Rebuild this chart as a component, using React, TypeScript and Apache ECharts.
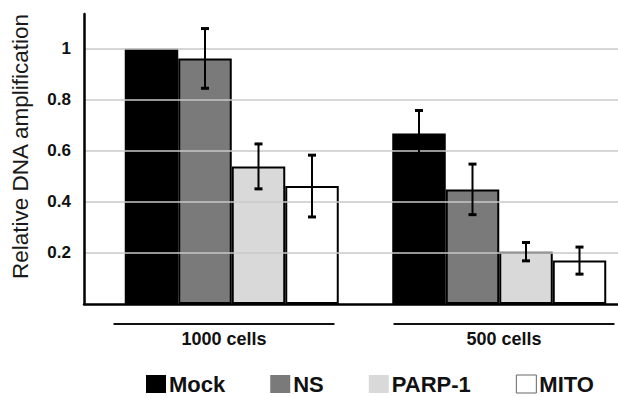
import React, { useEffect, useRef } from "react";
import * as echarts from "echarts";

const categories = ["1000 cells", "500 cells"];
const seriesNames = ["Mock", "NS", "PARP-1", "MITO"];
const mockValues = [1.0, 0.668];
const nsValues = [0.962, 0.449];
const parpValues = [0.539, 0.205];
const mitoValues = [0.462, 0.17];
const mockErr: (number | null)[] = [null, 0.09];
const nsErr = [0.117, 0.099];
const parpErr = [0.088, 0.036];
const mitoErr = [0.121, 0.053];
const yTickLabels = [0.2, 0.4, 0.6, 0.8, 1];
const yMax = 1.136;

const colors = ["#000000", "#7a7a7a", "#d9d9d9", "#ffffff"];
const FONT = "'Liberation Sans', Arial, sans-serif";

export default function App() {
  const ref = useRef<HTMLDivElement>(null);
  useEffect(() => {
    document.body.style.margin = "0";
    const chart = echarts.init(ref.current!, null, { renderer: "svg" });
    const values = [mockValues, nsValues, parpValues, mitoValues];
    const errs = [mockErr, nsErr, parpErr, mitoErr];
    const errData: number[][] = [];
    errs.forEach((arr, s) => {
      arr.forEach((e, c) => {
        if (e != null) errData.push([c, s, values[s][c] - e, values[s][c] + e]);
      });
    });

    const barSeries = seriesNames.map((name, i) => ({
      name,
      type: "bar",
      xAxisIndex: 1,
      yAxisIndex: 1,
      data: values[i],
      barWidth: "20%",
      barGap: "0%",
      itemStyle: { color: colors[i], borderColor: "#000", borderWidth: 2 },
      z: 3,
    }));

    chart.setOption({
      animation: false,
      textStyle: { fontFamily: FONT },
      grid: [
        { left: 84, width: 534, top: 14, height: 290, outerBoundsMode: "none", containLabel: false },
        { left: 98, width: 535, top: 14, height: 290, outerBoundsMode: "none", containLabel: false },
        { left: 84, width: 560, top: 14, height: 290, outerBoundsMode: "none", containLabel: false },
      ],
      xAxis: [
        {
          gridIndex: 0,
          type: "value",
          min: 0,
          max: 1,
          axisLine: { show: true, lineStyle: { color: "#000", width: 2.5 } },
          axisTick: { show: false },
          axisLabel: { show: false },
          splitLine: { show: false },
          z: 5,
        },
        {
          gridIndex: 1,
          type: "category",
          data: categories,
          axisLine: { show: false },
          axisTick: { show: false },
          axisLabel: { show: false },
        },
        {
          gridIndex: 2,
          type: "category",
          data: categories,
          axisLine: { show: false },
          axisTick: { show: false },
          axisLabel: {
            show: true,
            margin: 19,
            formatter: (v: string) => "{l| }\n{t|" + v + "}",
            rich: {
              l: { width: 221, height: 2, lineHeight: 2, backgroundColor: "#111" },
              t: {
                fontSize: 18,
                fontWeight: "bold",
                color: "#111",
                fontFamily: FONT,
                lineHeight: 28,
              },
            },
          },
        },
      ],
      yAxis: [
        {
          gridIndex: 0,
          type: "value",
          min: 0,
          max: yMax,
          interval: 0.2,
          name: "Relative DNA amplification",
          nameLocation: "middle",
          nameGap: 52,
          nameTextStyle: {
            fontSize: 22.5,
            color: "#1a1a1a",
            fontFamily: FONT,
            padding: [0, 0, 0, 25],
          },
          axisLine: { show: true, lineStyle: { color: "#000", width: 2.5 } },
          axisTick: { show: false },
          axisLabel: {
            margin: 13,
            fontSize: 17,
            fontWeight: "bold",
            color: "#111",
            fontFamily: FONT,
            showMaxLabel: false,
            showMinLabel: false,
            formatter: (v: number) => {
              const r = Number(v.toFixed(1));
              return yTickLabels.indexOf(r) >= 0 && Math.abs(r - v) < 1e-6 ? String(r) : "";
            },
          },
          splitLine: {
            show: true,
            showMaxLine: false,
            showMinLine: false,
            lineStyle: { color: "#c8c8c8", width: 1.5 },
          },
          z: 5,
        },
        { gridIndex: 1, type: "value", min: 0, max: yMax, show: false },
        { gridIndex: 2, type: "value", min: 0, max: yMax, show: false },
      ],
      legend: {
        data: seriesNames.map((n, i) =>
          i === 3
            ? { name: n, itemStyle: { borderWidth: 1, borderColor: "#666" } }
            : { name: n, itemStyle: { borderWidth: 0 } }
        ),
        icon: "rect",
        left: 146,
        top: 373,
        padding: 0,
        itemWidth: 20,
        itemHeight: 18,
        itemGap: 45,
        textStyle: {
          fontSize: 22,
          fontWeight: "bold",
          color: "#111",
          fontFamily: FONT,
          lineHeight: 22,
          padding: [0, 0, 0, -2],
        },
      },
      series: [
        ...barSeries,
        {
          type: "custom",
          xAxisIndex: 1,
          yAxisIndex: 1,
          z: 10,
          data: errData,
          encode: { x: 0, y: [2, 3] },
          renderItem: (params: any, api: any) => {
            const c = api.value(0);
            const s = api.value(1);
            const band = api.size([1, 0])[0];
            const top = api.coord([c, api.value(3)]);
            const bot = api.coord([c, api.value(2)]);
            const x = top[0] + (s - 1.5) * band * 0.2;
            const hw = 4;
            const st = { stroke: "#000", lineWidth: 2 };
            const cap = { stroke: "#000", lineWidth: 3 };
            return {
              type: "group",
              children: [
                { type: "line", shape: { x1: x, y1: top[1], x2: x, y2: bot[1] }, style: st },
                { type: "line", shape: { x1: x - hw, y1: top[1], x2: x + hw, y2: top[1] }, style: cap },
                { type: "line", shape: { x1: x - hw, y1: bot[1], x2: x + hw, y2: bot[1] }, style: cap },
              ],
            };
          },
        },
      ],
    });
    return () => chart.dispose();
  }, []);
  return <div ref={ref} style={{ width: 618, height: 397, overflow: "hidden" }} />;
}
